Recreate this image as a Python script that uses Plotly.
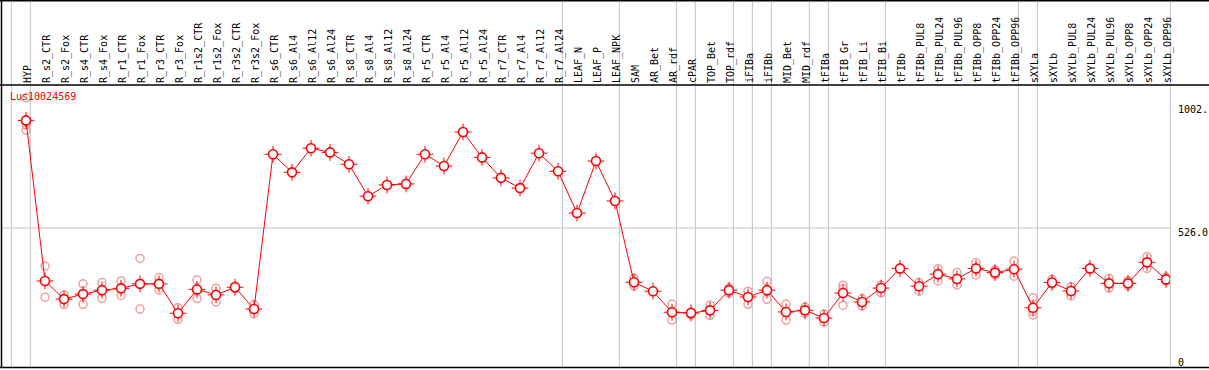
import plotly.graph_objects as go

title_text = "Lus10024569"

categories = [
    "HYP", "R_s2_CTR", "R_s2_Fox", "R_s4_CTR", "R_s4_Fox", "R_r1_CTR", "R_r1_Fox",
    "R_r3_CTR", "R_r3_Fox", "R_r1s2_CTR", "R_r1s2_Fox", "R_r3s2_CTR", "R_r3s2_Fox",
    "R_s6_CTR", "R_s6_Al4", "R_s6_Al12", "R_s6_Al24", "R_s8_CTR", "R_s8_Al4",
    "R_s8_Al12", "R_s8_Al24", "R_r5_CTR", "R_r5_Al4", "R_r5_Al12", "R_r5_Al24",
    "R_r7_CTR", "R_r7_Al4", "R_r7_Al12", "R_r7_Al24", "LEAF_N", "LEAF_P", "LEAF_NPK",
    "SAM", "AR_Bet", "AR_rdf", "cPAR", "TOP_Bet", "TOP_rdf", "iFIBa", "iFIBb",
    "MID_Bet", "MID_rdf", "tFIBa", "tFIB_Gr", "tFIB_Li", "tFIB_Bi", "tFIBb",
    "tFIBb_PUL8", "tFIBb_PUL24", "tFIBb_PUL96", "tFIBb_OPP8", "tFIBb_OPP24",
    "tFIBb_OPP96", "sXYLa", "sXYLb", "sXYLb_PUL8", "sXYLb_PUL24", "sXYLb_PUL96",
    "sXYLb_OPP8", "sXYLb_OPP24", "sXYLb_OPP96",
]

mean_values = [
    936, 324, 255, 274, 289, 296, 313, 313, 201, 292, 271, 300, 217,
    807, 738, 830, 814, 769, 647, 690, 694, 807, 762, 892, 795, 717, 678, 811, 742,
    583, 781, 629,
    319, 285, 205, 202, 212, 289, 263, 289, 206, 212, 183, 278, 244, 297,
    372, 304, 350, 332, 372, 356, 369, 222, 318, 286, 372, 315, 315, 395, 330,
]

replicate_values = [
    [1022, 918, 899], [381, 324, 262], [271, 256, 234], [313, 274, 235],
    [318, 289, 258], [324, 296, 269], [410, 312, 217], [337, 312, 290],
    [222, 201, 178], [328, 292, 257], [296, 271, 243], [305, 300, 295],
    [234, 217, 199],
    [807], [738], [830], [814], [769], [647], [690], [694], [807], [762],
    [892], [795], [717], [678], [811], [742], [583], [781], [629],
    [335, 319, 305], [285], [236, 205, 175], [206, 202, 194], [232, 212, 192],
    [298, 289, 279], [285, 263, 235], [323, 288, 254], [236, 206, 175],
    [224, 212, 201], [198, 183, 168], [308, 295, 231], [256, 244, 229],
    [308, 297, 279], [372], [318, 304, 285], [371, 350, 324], [356, 332, 309],
    [394, 372, 347], [366, 356, 348], [400, 368, 342], [260, 207, 194],
    [330, 318, 312], [302, 289, 267], [372], [334, 315, 297], [325, 315, 306],
    [417, 395, 372], [339, 330, 324],
]

# group boundaries (index of last category in each group)
group_ends = [-1, 0, 28, 31, 34, 35, 37, 38, 39, 41, 42, 45, 52, 53, 60]

y_tick_vals = [0, 526.0, 1002.6]
y_tick_text = ["0", "526.0", "1002."]

# ---- layout geometry ----
W, H = 1209, 370
L, R, T, B = 2, 39, 85, 2
PW, PH = W - L - R, H - T - B
x0_px, dx_px = 26, 19          # pixel of first category, spacing
def xpix_to_idx(px):
    return (px - x0_px) / dx_px
def px_to_paper_x(px):
    return (px - L) / PW
def py_to_paper_y(py):
    return (H - B - py) / PH

x_range = [xpix_to_idx(L), xpix_to_idx(L + PW)]
units_per_px = 3.811
y_range = [(366 - (H - B)) * units_per_px, (366 - T) * units_per_px]

idx = list(range(len(categories)))
rx, ry = [], []
for i, reps in enumerate(replicate_values):
    for v in reps:
        rx.append(i)
        ry.append(v)

fig = go.Figure()
fig.add_trace(go.Scatter(
    x=rx, y=ry, mode="markers", hoverinfo="skip",
    marker=dict(symbol="circle-open", size=8, color="#f0a0a0", line=dict(width=1.5, color="#f0a0a0")),
))
fig.add_trace(go.Scatter(
    x=idx, y=mean_values, mode="lines", line=dict(color="#ff0000", width=1), hoverinfo="skip",
))
fig.add_trace(go.Scatter(
    x=idx, y=mean_values, mode="markers", hoverinfo="skip",
    marker=dict(symbol="cross-thin-open", size=12, color="#ff0000", line=dict(width=1, color="#ff0000")),
))
fig.add_trace(go.Scatter(
    x=idx, y=mean_values, mode="markers", text=categories,
    marker=dict(symbol="circle", size=9, color="white", line=dict(width=1.6, color="#ff0000")),
))

shapes = []
# group separators (full height, including label band)
for g in group_ends:
    px = x0_px + dx_px * (g + 0.23)
    xp = px_to_paper_x(px)
    shapes.append(dict(type="line", xref="paper", yref="paper", x0=xp, x1=xp,
                       y0=0, y1=py_to_paper_y(0), line=dict(color="#c4c4c4", width=1), layer="below"))
# mid horizontal gridline
shapes.append(dict(type="line", xref="paper", yref="y", x0=0, x1=px_to_paper_x(x0_px + dx_px * 60.23),
                   y0=526.0, y1=526.0, line=dict(color="#c4c4c4", width=1), layer="below"))
# frame lines
for py in [0.75, 85, 367.5]:
    yp = py_to_paper_y(py)
    shapes.append(dict(type="line", xref="paper", yref="paper", x0=px_to_paper_x(0), x1=px_to_paper_x(W),
                       y0=yp, y1=yp, line=dict(color="black", width=1.5)))
shapes.append(dict(type="line", xref="paper", yref="paper", x0=px_to_paper_x(1.5), x1=px_to_paper_x(1.5),
                   y0=py_to_paper_y(0), y1=py_to_paper_y(368), line=dict(color="black", width=1.5)))

mono = "DejaVu Sans Mono, monospace"
annotations = [
    dict(text=title_text, xref="paper", yref="paper", x=px_to_paper_x(8), y=py_to_paper_y(97),
         xanchor="left", yanchor="middle", showarrow=False, font=dict(family=mono, size=10, color="#ff0000")),
]
label_centers = [362, 232.5, 109]
for txt, cy in zip(y_tick_text, label_centers):
    annotations.append(dict(text=txt, xref="paper", yref="paper", x=px_to_paper_x(1176), y=py_to_paper_y(cy),
                            xanchor="left", yanchor="middle", showarrow=False,
                            font=dict(family=mono, size=10, color="black")))

fig.update_layout(
    width=W, height=H,
    margin=dict(l=L, r=R, t=T, b=B, pad=0),
    paper_bgcolor="white", plot_bgcolor="white",
    showlegend=False,
    xaxis=dict(range=x_range, side="top", tickmode="array", tickvals=idx, ticktext=categories,
               tickangle=-90, ticks="", showgrid=False, zeroline=False, showline=False,
               ticklabelshift=2, ticklabelstandoff=1,
               tickfont=dict(family=mono, size=10, color="black"), automargin=False, fixedrange=True),
    yaxis=dict(range=y_range, showgrid=False, zeroline=False, showline=False, showticklabels=False,
               ticks="", automargin=False, fixedrange=True),
    shapes=shapes,
    annotations=annotations,
)

fig.write_html("out.html", config={"displayModeBar": False},
               post_script="document.body.style.margin='0';document.body.style.overflow='hidden';")
